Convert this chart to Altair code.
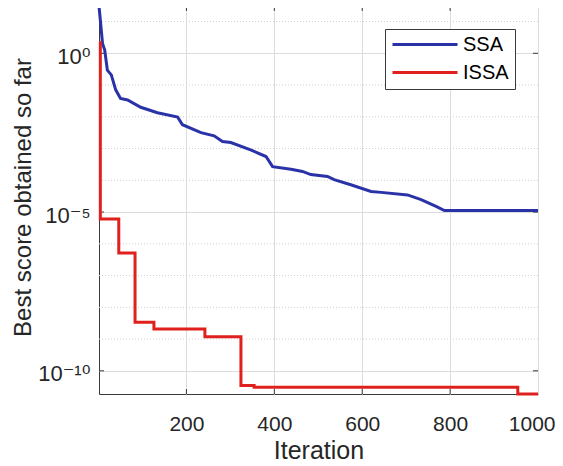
import altair as alt
import pandas as pd

# ---- data (log10 of best score) ----
ssa_iter = [1, 9, 14, 20, 29, 39, 50, 66, 96, 134, 180, 191, 233, 263, 282, 301,
            346, 381, 396, 438, 464, 483, 521, 536, 574, 620, 643, 703, 734, 768, 787, 1000]
ssa_log = [1.49, 0.31, 0.10, -0.53, -0.68, -1.15, -1.42, -1.47, -1.70, -1.87, -2.01, -2.25,
           -2.50, -2.60, -2.78, -2.81, -3.04, -3.25, -3.57, -3.65, -3.72, -3.82, -3.88,
           -3.98, -4.14, -4.35, -4.38, -4.46, -4.61, -4.82, -4.95, -4.95]

issa_iter = [1, 4, 46, 83, 126, 242, 324, 354, 954, 1000]
issa_log = [0.34, -5.22, -6.29, -8.47, -8.68, -8.93, -10.46, -10.52, -10.73, -10.73]

series_names = ["SSA", "ISSA"]
x_ticks = [200, 400, 600, 800, 1000]
y_major = [1e0, 1e-5, 1e-10]
y_minor = [1e1, 1e-1, 1e-2, 1e-3, 1e-4, 1e-6, 1e-7, 1e-8, 1e-9]
x_domain = [1, 1000]
y_domain_log = [-10.73, 1.49]

BLUE = "#2a32a8"
RED = "#e0201c"
FRAME = "#3a3a3a"
GRID = "#dcdcdc"
TEXT = "#262626"
FONT = "Liberation Sans, DejaVu Sans"

W, H = 439, 388

ssa_df = pd.DataFrame({"iter": ssa_iter, "value": [10 ** v for v in ssa_log], "series": "SSA"})
issa_df = pd.DataFrame({"iter": issa_iter, "value": [10 ** v for v in issa_log], "series": "ISSA"})
minor_df = pd.DataFrame({"iter": [x_domain[0]] * len(y_minor), "value": y_minor})
ymaj_df = pd.DataFrame({"iter": [x_domain[0]] * len(y_major), "value": y_major})
xt_df = pd.DataFrame({"iter": x_ticks[:-1], "value": [1.0] * (len(x_ticks) - 1)})

xscale = alt.Scale(domain=x_domain, nice=False, zero=False)
yscale = alt.Scale(type="log", domain=[10 ** y_domain_log[0], 10 ** y_domain_log[1]], nice=False)
cscale = alt.Scale(domain=series_names, range=[BLUE, RED])

xaxis = alt.Axis(values=x_ticks, format="d", grid=True, gridColor=GRID, domain=False, ticks=False,
                 labelFont=FONT, labelFontSize=21, labelColor=TEXT, labelPadding=19,
                 labelFlush=5, labelFlushOffset=17,
                 titleFont=FONT, titleFontSize=25, titleColor=TEXT,
                 titleFontWeight="normal", titleY=64, titleBaseline="alphabetic")
yaxis = alt.Axis(values=y_major, grid=True, gridColor=GRID, domain=False, ticks=False,
                 labelExpr="datum.value >= 0.5 ? '10⁰' : (datum.value > 1e-7 ? '10⁻⁵' : '10⁻¹⁰')",
                 labelFont=FONT, labelFontSize=22, labelColor=TEXT, labelPadding=9,
                 labelOffset=3, labelFlush=False,
                 titleFont=FONT, titleFontSize=24, titleColor=TEXT, titleFontWeight="normal",
                 titleX=-69, titleY=191, titleAngle=270, titleAlign="center",
                 titleBaseline="alphabetic")

legend = alt.Legend(orient="none", legendX=286, legendY=23, title=None, direction="vertical",
                    symbolType="stroke", symbolSize=4225, symbolStrokeWidth=3,
                    labelFont=FONT, labelFontSize=20, labelColor="#000000", labelOffset=4,
                    padding=6, rowPadding=7, clipHeight=19, strokeColor=FRAME,
                    fillColor="white", symbolOffset=0)


def X(field="iter"):
    return alt.X(f"{field}:Q", scale=xscale, axis=xaxis, title="Iteration")


def Y(field="value"):
    return alt.Y(f"{field}:Q", scale=yscale, axis=yaxis, title="Best score obtained so far")


minor_grid = alt.Chart(minor_df).mark_rule(color="#cfcfcf", strokeDash=[1, 2], strokeWidth=1).encode(
    y=Y())

ssa_line = alt.Chart(ssa_df).mark_line(strokeWidth=3, clip=False).encode(
    x=X(), y=Y(), color=alt.Color("series:N", scale=cscale, legend=legend))

issa_line = alt.Chart(issa_df).mark_line(strokeWidth=3, interpolate="step-after", clip=False).encode(
    x=X(), y=Y(), color=alt.Color("series:N", scale=cscale, legend=legend))

ytick_l = alt.Chart(ymaj_df).mark_rule(color=FRAME).encode(
    y=Y(), x=alt.value(0), x2=alt.value(5))
ytick_r = alt.Chart(ymaj_df).mark_rule(color=FRAME).encode(
    y=Y(), x=alt.value(W - 5), x2=alt.value(W))
xtick_b = alt.Chart(xt_df).mark_rule(color=FRAME).encode(
    x=X(), y=alt.value(H), y2=alt.value(H - 5))
xtick_t = alt.Chart(xt_df).mark_rule(color=FRAME).encode(
    x=X(), y=alt.value(0), y2=alt.value(5))

chart = alt.layer(minor_grid, ytick_l, ytick_r, xtick_b, xtick_t, ssa_line, issa_line).properties(
    width=W, height=H,
    autosize=alt.AutoSizeParams(type="none"),
    padding={"left": 91, "top": -2, "right": 17, "bottom": 72},
    background="white",
).configure_view(stroke=FRAME, strokeWidth=1)

chart.save("out.html", embed_options={"renderer": "svg", "actions": False})
